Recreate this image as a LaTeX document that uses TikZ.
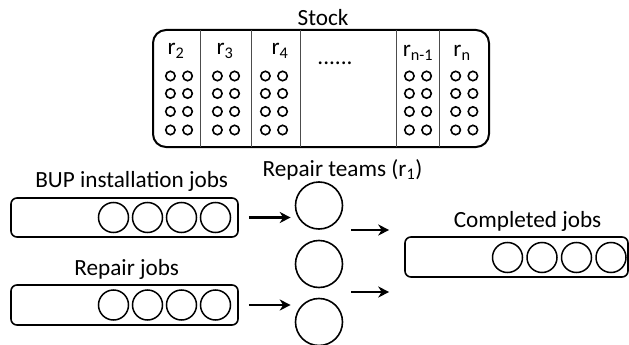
\documentclass[tikz,border=0pt]{standalone}
\usepackage{fontspec}
\setmainfont{Carlito}
\usetikzlibrary{arrows.meta}
\tikzset{
  lbl/.style={font=\fontsize{23.2}{27}\selectfont, anchor=base, inner sep=0pt},
  stocklbl/.style={font=\fontsize{23.2}{27}\selectfont, anchor=base, inner sep=0pt},
  queue/.style={draw, line width=1.6pt, rounded corners=6pt, minimum height=39pt, inner sep=0pt},
  job/.style={draw, circle, line width=1.5pt, minimum size=30pt, inner sep=0pt},
  part/.style={draw, circle, line width=1.6pt, minimum size=9.4pt, inner sep=0pt},
  team/.style={draw, circle, line width=1.6pt, minimum size=47pt, inner sep=0pt},
  flow/.style={line width=2.4pt, -{Stealth[length=11pt,width=11pt,inset=3.5pt]}},
  divider/.style={line width=0.9pt, draw=black!70},
}
\begin{document}
\begin{tikzpicture}[x=1pt,y=-1pt]
\useasboundingbox (0,0) rectangle (629,345);

% ---------- spare parts stock ----------
\node[lbl] (stocktitle) at (323,26) {Stock};
\node[draw, line width=2pt, rounded corners=13pt, minimum width=336pt, minimum height=117pt, inner sep=0pt] (stock) at (321,88.5) {};
\foreach \x in {200,251,300.5,396,439}
  \draw[divider] (\x,30) -- (\x,147);

\node[stocklbl] (l2) at (176,55) {r\textsubscript{2}};
\node[stocklbl] (l3) at (225,55) {r\textsubscript{3}};
\node[stocklbl] (l4) at (280,55) {r\textsubscript{4}};
\node[stocklbl] (ldots) at (335,65) {......};
\node[stocklbl] (ln1) at (418,57) {r\textsubscript{n-1}};
\node[stocklbl] (ln) at (462,57) {r\textsubscript{n}};

\foreach \c/\cx in {a/179, b/226, c/274, d/418, e/464.3}
  \foreach \r/\ry in {1/76, 2/93.5, 3/111.5, 4/130}
  {
    \node[part] (p\c\r l) at (\cx-8.6,\ry) {};
    \node[part] (p\c\r r) at (\cx+8.6,\ry) {};
  }

% ---------- job queues ----------
\node[lbl] (buptitle) at (131.7,187) {BUP installation jobs};
\node[queue, minimum width=227pt] (bup) at (124.5,217.5) {};
\node[lbl] (reptitle) at (126.7,275) {Repair jobs};
\node[queue, minimum width=227pt, minimum height=40pt] (rep) at (124.5,305) {};
\foreach \i/\x in {1/113.5, 2/147.5, 3/181.5, 4/215.5}
{
  \node[job] (b\i) at (\x,217.5) {};
  \node[job] (q\i) at (\x,305) {};
}

% ---------- repair teams ----------
\node[lbl] (teamtitle) at (342.5,176) {Repair teams (r\textsubscript{1})};
\node[team] (t1) at (319,205.5) {};
\node[team] (t2) at (319,264) {};
\node[team] (t3) at (319,322) {};

% ---------- completed jobs ----------
\node[lbl] (donetitle) at (527.5,227.3) {Completed jobs};
\node[queue, minimum width=223pt, minimum height=40pt] (done) at (516.5,257) {};
\foreach \i/\x in {1/507.5, 2/542, 3/576.5, 4/611}
  \node[job] (c\i) at (\x,257.5) {};

% ---------- flows ----------
\draw[flow, shorten <=10pt, shorten >=4pt] (bup.east) -- (bup.east -| t1.west);
\draw[flow, shorten <=10pt, shorten >=4pt] (rep.east) -- (rep.east -| t3.west);
\coordinate (outA) at (351,230);
\coordinate (outB) at (351,292);
\draw[flow, shorten >=15pt] (outA) -- (outA -| done.west);
\draw[flow, shorten >=15pt] (outB) -- (outB -| done.west);
\end{tikzpicture}
\end{document}
